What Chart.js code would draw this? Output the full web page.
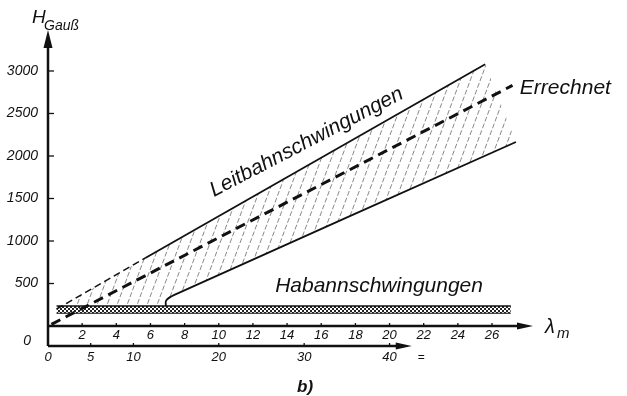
<!DOCTYPE html>
<html>
<head>
<meta charset="utf-8">
<script src="https://cdn.jsdelivr.net/npm/chart.js@4.4.1/dist/chart.umd.min.js"></script>
<style>
  html, body { margin: 0; padding: 0; background: #fff; }
</style>
</head>
<body>
<canvas id="chart" width="627" height="396"></canvas>
<script>
// ─── Data ────────────────────────────────────────────────────────────────────
const LAMBDA_TICKS = [2, 4, 6, 8, 10, 12, 14, 16, 18, 20, 22, 24, 26];
const Z_TICKS = [0, 5, 10, 20, 30, 40];          // lower scale = 2 * lambda
const H_TICKS = [0, 500, 1000, 1500, 2000, 2500, 3000];

const LAMBDA_MAX = 28.4;   // tip of the lambda arrow
const Z_ARROW = 42.6;      // tip of the lower arrow
const H_MIN = -235;
const H_MAX = 3482;

// Leitbahnschwingungen, upper edge (dashed start, then solid)
const UPPER_DASH_X = [0.5, 5.7];
const UPPER_DASH_H = [200, 800];
const UPPER_X = [5.7, 25.6];
const UPPER_H = [800, 3080];

// Leitbahnschwingungen, lower edge with the hook into the band
const LOWER_X = [6.9, 6.92, 7.4, 27.4];
const LOWER_H = [235, 300, 366, 2165];

// Errechnet
const CALC_X = [0.2, 27.2];
const CALC_H = [20, 2830];

// hatched Leitbahn area
const AREA_X = [0.5, 25.6, 27.4, 7.4, 6.92, 6.9, 0.5];
const AREA_H = [200, 3080, 2165, 366, 300, 235, 200];

// Habannschwingungen band
const BAND_X = [0.5, 27.1];
const BAND_TOP = [235, 235];
const BAND_BOTTOM = [150, 150];

const INK = '#111';
const FONT = '"Liberation Sans", Arial, sans-serif';

const pts = (xs, ys) => xs.map((x, i) => ({ x, y: ys[i] }));

// ─── Patterns ────────────────────────────────────────────────────────────────
function hatchPattern() {
  const c = document.createElement('canvas');
  c.width = 10; c.height = 27;
  const g = c.getContext('2d');
  g.strokeStyle = 'rgba(70,70,70,0.8)';
  g.lineWidth = 0.8;
  g.setLineDash([5, 2.2]);
  for (const dx of [-10, 0, 10]) {
    g.beginPath(); g.moveTo(dx, 27); g.lineTo(dx + 10, 0); g.stroke();
  }
  return g.createPattern(c, 'repeat');
}

function bandPattern() {
  const c = document.createElement('canvas');
  c.width = 4; c.height = 4;
  const g = c.getContext('2d');
  g.fillStyle = '#222';
  g.fillRect(0, 0, 2, 2);
  g.fillRect(2, 2, 2, 2);
  return g.createPattern(c, 'repeat');
}

// ─── Hand-drawn axes, arrows and labels ─────────────────────────────────────
const axesPlugin = {
  id: 'handAxes',
  afterDraw(chart) {
    const { ctx } = chart;
    const { x, y, x2 } = chart.scales;
    const x0 = x.getPixelForValue(0);
    const y0 = y.getPixelForValue(0);
    const yTop = y.getPixelForValue(H_MAX);
    const yBot = y.getPixelForValue(H_MIN);
    const xEnd = x.getPixelForValue(LAMBDA_MAX);
    const zEnd = x2.getPixelForValue(Z_ARROW);

    ctx.save();
    ctx.strokeStyle = INK;
    ctx.fillStyle = INK;
    ctx.lineWidth = 2.5;
    ctx.lineCap = 'butt';

    const seg = (ax, ay, bx, by) => { ctx.beginPath(); ctx.moveTo(ax, ay); ctx.lineTo(bx, by); ctx.stroke(); };
    const tri = (p) => { ctx.beginPath(); ctx.moveTo(...p[0]); ctx.lineTo(...p[1]); ctx.lineTo(...p[2]); ctx.closePath(); ctx.fill(); };

    seg(x0, yBot, x0, yTop + 12);
    tri([[x0, yTop], [x0 - 4.5, yTop + 18], [x0 + 4.5, yTop + 18]]);
    seg(x0, y0, xEnd - 10, y0);
    tri([[xEnd, y0], [xEnd - 16, y0 - 3.5], [xEnd - 16, y0 + 3.5]]);
    seg(x0, yBot, zEnd - 10, yBot);
    tri([[zEnd, yBot], [zEnd - 16, yBot - 3.5], [zEnd - 16, yBot + 3.5]]);

    ctx.lineWidth = 1.3;
    H_TICKS.forEach(v => { const py = y.getPixelForValue(v); seg(x0, py, x0 + 6, py); });
    LAMBDA_TICKS.forEach(v => { const px = x.getPixelForValue(v); seg(px, y0, px, y0 - 3); });
    Z_TICKS.forEach(v => { const px = x2.getPixelForValue(v); seg(px, yBot, px, yBot - 3); });

    ctx.textBaseline = 'alphabetic';
    ctx.textAlign = 'left';
    ctx.font = 'italic 19px ' + FONT;
    ctx.fillText('H', x0 - 16, yTop - 7);
    ctx.font = 'italic 14px ' + FONT;
    ctx.fillText('Gauß', x0 - 4, yTop);

    ctx.font = 'italic 20px ' + FONT;
    ctx.fillText('λ', xEnd + 12, y0 + 7);
    ctx.font = 'italic 15px ' + FONT;
    ctx.fillText('m', xEnd + 24, y0 + 12);

    ctx.font = '12px ' + FONT;
    ctx.fillText('=', zEnd + 6, yBot + 15);

    ctx.font = 'bold italic 17px ' + FONT;
    ctx.textAlign = 'center';
    ctx.fillText('b)', x.getPixelForValue(15.05), yBot + 46);

    ctx.font = 'italic 14px ' + FONT;
    ctx.textAlign = 'right';
    ctx.textBaseline = 'middle';
    ctx.fillText('0', x0 - 17, y0 + 15);

    ctx.textAlign = 'left';
    ctx.textBaseline = 'alphabetic';
    ctx.font = 'italic 21px ' + FONT;
    ctx.fillText('Habannschwingungen', x.getPixelForValue(13.3), y.getPixelForValue(400));
    ctx.fillText('Errechnet', x.getPixelForValue(27.63), y.getPixelForValue(2729));

    ctx.translate(x.getPixelForValue(9.72), y.getPixelForValue(1518));
    ctx.rotate(-27.5 * Math.PI / 180);
    ctx.fillText('Leitbahnschwingungen', 0, 0);
    ctx.restore();
  }
};

// ─── Chart ───────────────────────────────────────────────────────────────────
const tickFont = size => ({ family: FONT, size, style: 'italic' });
const setTicks = values => scale => { scale.ticks = values.map(v => ({ value: v })); };

new Chart(document.getElementById('chart'), {
  type: 'line',
  data: {
    datasets: [
      { data: pts(CALC_X, CALC_H), borderColor: INK, borderWidth: 3, borderDash: [10, 6] },
      { data: pts(UPPER_DASH_X, UPPER_DASH_H), borderColor: INK, borderWidth: 1.5, borderDash: [7, 4] },
      { data: pts(UPPER_X, UPPER_H), borderColor: INK, borderWidth: 1.8 },
      { data: pts(LOWER_X, LOWER_H), borderColor: INK, borderWidth: 1.8, tension: 0.35 },
      { data: pts(BAND_X, BAND_TOP), borderColor: INK, borderWidth: 1.6, fill: '+1', backgroundColor: bandPattern() },
      { data: pts(BAND_X, BAND_BOTTOM), borderColor: INK, borderWidth: 1.2 },
      { data: pts(AREA_X, AREA_H), borderWidth: 0, borderColor: 'rgba(0,0,0,0)', fill: 'shape', backgroundColor: hatchPattern() }
    ]
  },
  options: {
    responsive: false,
    animation: false,
    devicePixelRatio: 1,
    layout: { padding: { left: 0, right: 94, top: 30, bottom: 0 } },
    elements: { point: { radius: 0 }, line: { tension: 0, fill: false } },
    plugins: { legend: { display: false }, tooltip: { enabled: false } },
    scales: {
      x: {
        type: 'linear', min: 0, max: LAMBDA_MAX, position: { y: 0 },
        grid: { display: false, drawTicks: false }, border: { display: false },
        ticks: { font: tickFont(13), color: INK, padding: 2, maxRotation: 0, autoSkip: false },
        afterBuildTicks: setTicks(LAMBDA_TICKS)
      },
      x2: {
        type: 'linear', axis: 'x', position: 'bottom', min: 0, max: 2 * LAMBDA_MAX,
        grid: { display: false, drawTicks: false }, border: { display: false },
        ticks: { font: tickFont(13), color: INK, padding: 4, maxRotation: 0, autoSkip: false },
        afterBuildTicks: setTicks(Z_TICKS),
        afterFit: s => { s.height = 50; }
      },
      y: {
        type: 'linear', min: H_MIN, max: H_MAX, position: 'left',
        grid: { display: false, drawTicks: false }, border: { display: false },
        ticks: { font: tickFont(14), color: INK, padding: 10, callback: v => (v === 0 ? '' : String(v)) },
        afterBuildTicks: setTicks(H_TICKS),
        afterFit: s => { s.width = 48; }
      }
    }
  },
  plugins: [axesPlugin]
});
</script>
</body>
</html>
